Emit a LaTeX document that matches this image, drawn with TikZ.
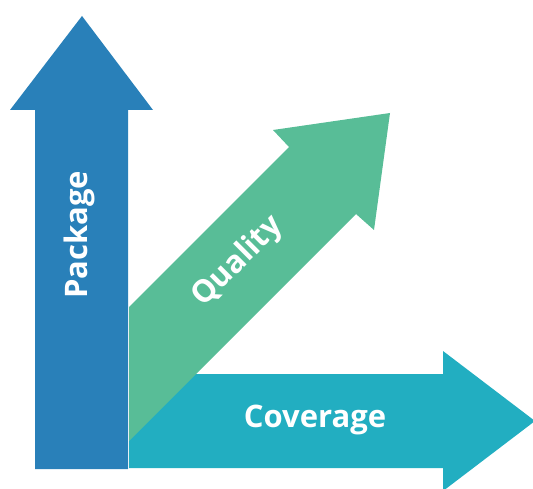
\documentclass[tikz,border=0pt]{standalone}
\usepackage{fontspec}
\setmainfont{Open Sans}
\definecolor{pkgblue}{RGB}{41,128,185}
\definecolor{qualgreen}{RGB}{88,189,151}
\definecolor{covteal}{RGB}{34,174,193}
\tikzset{
  lbl/.style={text=white, font=\bfseries\fontsize{31}{37}\selectfont, inner sep=0pt}
}
\begin{document}
\begin{tikzpicture}[x=1pt,y=-1pt]
\useasboundingbox (0,0) rectangle (533,489);
\begin{scope}
\clip (0,0) rectangle (533,489);
% horizontal (coverage) arrow
\fill[covteal] (129,374) -- (443,374) -- (443,351) -- (535,421) -- (443,491) -- (443,468) -- (129,468) -- cycle;
% diagonal (quality) arrow
\fill[qualgreen] (129,307) -- (289,147) -- (273,130) -- (390,113) -- (374,230) -- (356,214) -- (129,441) -- cycle;
% vertical (package) arrow
\fill[pkgblue] (35,469) -- (35,110) -- (10,110) -- (82,16) -- (153,110) -- (128,110) -- (128,469) -- cycle;
\end{scope}
\node[lbl, rotate=90] (package) at (79,235) {Package};
\node[lbl, rotate=45] (quality) at (238,262) {Quality};
\node[lbl] (coverage) at (315,420) {Coverage};
\end{tikzpicture}
\end{document}
